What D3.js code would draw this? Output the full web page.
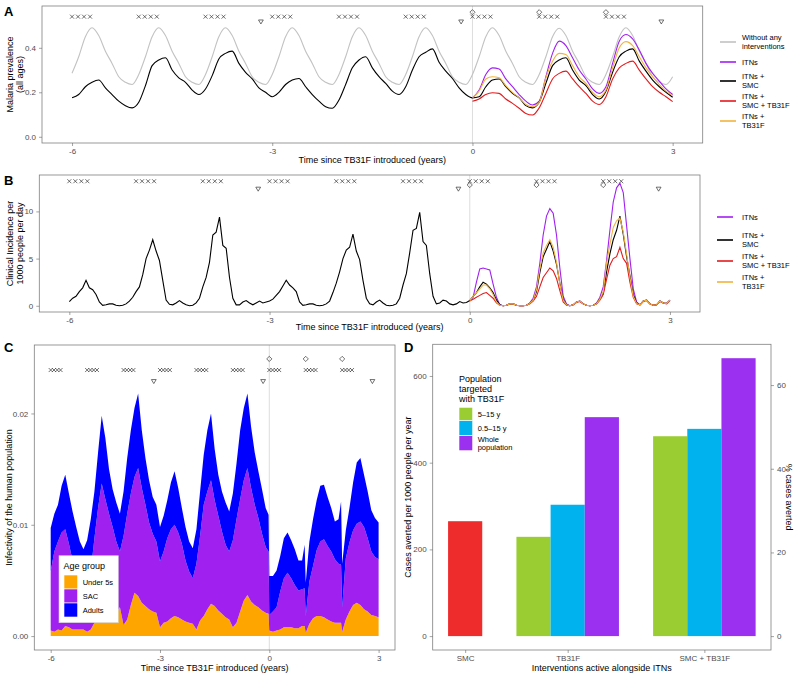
<!DOCTYPE html>
<html><head><meta charset="utf-8">
<script src="https://cdn.jsdelivr.net/npm/d3@7"></script>
<style>body{margin:0;background:#fff} text{font-family:"Liberation Sans",Arial,Helvetica,sans-serif}</style>
</head><body>
<svg id="chart" width="800" height="678"></svg>
<script>
// ---------------- DATA ----------------
const timeTicks = [-6, -3, 0, 3];
// Panel A: malaria prevalence (all ages), sampled every 0.1 y from -6 to 3 (full) / 0 to 3 (after)
const aWithout = [
0.286,0.36,0.45,0.49,0.455,0.385,0.33,0.27,0.245,0.235,
0.28,0.36,0.45,0.49,0.455,0.385,0.33,0.27,0.245,0.235,
0.28,0.36,0.45,0.49,0.455,0.385,0.33,0.27,0.245,0.235,
0.28,0.36,0.45,0.49,0.455,0.385,0.33,0.27,0.245,0.235,
0.28,0.36,0.45,0.49,0.455,0.385,0.33,0.27,0.245,0.235,
0.28,0.36,0.45,0.49,0.455,0.385,0.33,0.27,0.245,0.235,
0.28,0.36,0.45,0.49,0.455,0.385,0.33,0.27,0.245,0.235,
0.28,0.36,0.45,0.488,0.455,0.385,0.33,0.27,0.245,0.235,
0.28,0.36,0.45,0.49,0.455,0.385,0.33,0.27,0.245,0.235,
0.27];
const aItnSmc = [
0.175,0.19,0.225,0.245,0.255,0.22,0.19,0.16,0.14,0.13,
0.155,0.23,0.32,0.345,0.355,0.30,0.265,0.245,0.21,0.19,
0.215,0.275,0.35,0.375,0.385,0.33,0.29,0.26,0.22,0.20,
0.18,0.2,0.235,0.255,0.262,0.225,0.19,0.16,0.135,0.128,
0.165,0.235,0.31,0.345,0.36,0.31,0.27,0.24,0.205,0.19,
0.225,0.30,0.36,0.38,0.395,0.335,0.295,0.262,0.22,0.19,
0.175,0.18,0.225,0.255,0.26,0.225,0.195,0.175,0.14,0.13,
0.155,0.24,0.32,0.345,0.355,0.30,0.255,0.23,0.19,0.17,
0.205,0.29,0.36,0.385,0.395,0.34,0.295,0.255,0.225,0.2,
0.178];
const aItns = [0.175,0.21,0.28,0.31,0.305,0.26,0.225,0.19,0.16,0.143,
0.16,0.27,0.375,0.43,0.41,0.355,0.30,0.26,0.215,0.195,
0.225,0.33,0.43,0.46,0.44,0.39,0.33,0.285,0.25,0.215,0.19];
const aItnSmcTb = [0.16,0.17,0.19,0.198,0.195,0.17,0.15,0.128,0.105,0.098,
0.13,0.195,0.26,0.285,0.295,0.26,0.225,0.195,0.16,0.145,
0.18,0.26,0.31,0.33,0.34,0.30,0.26,0.225,0.20,0.18,0.158];
const aItnTb = [0.175,0.205,0.26,0.27,0.265,0.23,0.20,0.175,0.145,0.135,
0.155,0.265,0.34,0.375,0.37,0.32,0.27,0.24,0.20,0.18,
0.21,0.31,0.40,0.428,0.41,0.36,0.31,0.27,0.235,0.205,0.185];

// Panel B: clinical incidence per 1000 per day, every 0.05 y
const bItnSmc = [
0.45,0.8,1.0,1.5,1.9,2.7,1.9,1.7,1.2,0.4,0.05,0.1,0.2,0.2,0.05,0.0,0.05,0.2,0.5,0.9,
1.5,2.0,3.3,5.0,5.9,7.0,5.8,4.8,2.7,0.6,0.15,0.1,0.3,0.55,0.3,0.1,0.0,0.05,0.3,0.8,
2.0,3.0,4.6,7.5,7.8,9.4,6.4,6.1,3.0,0.8,0.1,0.1,0.4,0.55,0.3,0.1,0.3,0.5,0.3,0.4,
0.5,0.7,1.1,1.5,2.1,2.7,2.2,1.9,1.5,0.4,0.05,0.1,0.2,0.2,0.05,0.0,0.05,0.2,0.5,1.4,
2.4,3.6,5.0,5.9,6.2,7.6,5.8,4.9,2.7,0.8,0.2,0.1,0.4,0.6,0.3,0.05,0.0,0.05,0.2,0.8,
2.2,3.4,5.6,8.0,8.2,9.9,6.8,6.4,3.4,1.0,0.2,0.3,0.6,0.5,0.2,0.1,0.2,0.45,0.3,0.35,
0.55,1.0,1.4,2.0,2.5,2.3,1.9,1.4,0.6,0.1,0.0,0.05,0.2,0.2,0.05,0.0,0.0,0.05,0.25,0.6,
1.5,3.5,5.2,6.0,6.8,5.8,4.4,2.4,0.7,0.1,0.0,0.1,0.4,0.5,0.2,0.05,0.0,0.05,0.2,0.7,
1.3,3.6,5.5,7.0,8.0,9.5,7.6,5.2,3.2,1.2,0.3,0.1,0.5,0.6,0.2,0.05,0.1,0.5,0.3,0.25,
0.6];
const bItns = [
0.55,0.9,2.5,3.9,4.0,3.9,3.8,2.3,0.9,0.1,0.0,0.05,0.2,0.2,0.05,0.0,0.0,0.05,0.3,0.8,
2.0,4.5,7.5,9.5,10.3,9.8,7.5,4.0,1.0,0.2,0.0,0.1,0.4,0.5,0.2,0.05,0.0,0.05,0.3,0.9,
2.0,4.8,8.0,11.0,12.5,13.0,12.0,8.5,5.0,1.8,0.4,0.1,0.5,0.6,0.2,0.05,0.1,0.5,0.3,0.25,
0.6];
const bItnSmcTb = [
0.5,0.7,0.9,1.1,1.3,1.4,1.1,0.8,0.3,0.05,0.0,0.05,0.2,0.2,0.05,0.0,0.0,0.05,0.2,0.5,
1.0,2.0,3.0,3.5,4.0,3.7,2.9,1.6,0.4,0.05,0.0,0.1,0.35,0.45,0.2,0.05,0.0,0.05,0.2,0.6,
1.2,2.8,4.3,5.0,5.2,6.2,5.0,4.5,2.5,0.9,0.2,0.1,0.45,0.55,0.2,0.05,0.1,0.45,0.3,0.2,
0.55];
const bItnTb = [
0.55,1.0,1.4,1.8,2.2,2.2,1.8,1.2,0.4,0.05,0.0,0.05,0.2,0.2,0.05,0.0,0.0,0.05,0.25,0.6,
1.7,3.9,5.6,6.4,7.0,6.2,4.6,2.3,0.6,0.1,0.0,0.1,0.4,0.5,0.2,0.05,0.0,0.05,0.2,0.7,
1.5,4.5,6.5,8.3,9.0,9.3,7.8,5.5,3.0,1.0,0.25,0.1,0.5,0.6,0.2,0.05,0.1,0.5,0.3,0.25,
0.6];

// Panel C: infectivity by age group (units of 0.001), every 0.1 y from -6 to 3
const cUnder5 = [
0.5,0.4,0.6,0.5,0.9,0.8,0.6,0.6,0.6,0.6,
0.4,0.6,1.2,1.5,1.6,1.6,1.7,1.8,2.2,2.6,
1.0,1.5,2.8,3.9,3.6,3.0,2.7,2.4,2.2,2.1,
0.8,1.2,1.3,1.6,1.8,1.7,1.5,1.3,1.2,1.1,
0.6,1.4,1.8,2.4,2.9,2.7,2.3,2.0,1.7,1.5,
0.8,1.2,2.2,3.2,3.7,3.1,2.8,2.6,2.3,2.1,
0.5,0.4,0.5,0.6,0.8,0.8,0.8,0.7,0.7,0.9,
0.3,1.1,1.6,1.8,1.8,1.7,1.5,1.3,1.2,1.2,
0.4,1.5,2.2,2.8,3.0,2.8,2.4,2.2,1.9,1.8,
1.7];
const cSAC = [
5.3,7.2,7.9,8.8,8.7,7.5,6.2,4.6,3.7,3.1,
3.9,5.2,7.6,10.0,12.1,10.7,9.3,8.0,6.3,5.0,
8.0,9.5,10.0,10.4,11.5,10.3,9.1,7.8,7.0,6.4,
5.9,6.4,7.5,8.0,8.2,7.6,6.8,5.5,4.6,4.1,
5.9,7.6,10.0,10.6,11.1,9.5,8.5,7.4,6.5,6.1,
7.8,9.3,10.1,10.8,11.4,10.2,9.0,8.0,6.9,5.9,
1.4,1.8,2.1,3.4,4.4,4.9,4.4,3.9,3.4,3.3,
1.5,3.8,4.7,5.9,6.7,7.0,6.6,6.3,5.7,5.3,
2.2,5.5,6.2,6.7,7.1,7.5,7.4,6.6,5.7,5.3,
5.2];
const cAdults = [
3.9,3.4,3.3,4.2,4.9,4.5,4.4,4.6,4.2,4.1,
4.3,4.7,4.2,5.0,6.1,5.5,4.0,3.4,3.5,3.4,
4.0,5.0,5.7,6.2,6.7,5.2,4.2,3.8,3.3,3.3,
3.1,3.2,3.4,4.2,4.8,4.0,3.2,3.0,2.7,2.7,
3.1,4.0,4.5,5.5,6.0,4.6,3.7,3.6,3.8,3.6,
4.2,5.0,6.2,6.5,6.7,5.5,4.7,4.2,4.0,3.5,
3.5,3.2,3.3,3.2,3.6,3.6,3.4,3.2,2.7,2.6,
3.0,3.6,4.2,4.5,5.0,4.9,4.4,3.9,3.4,4.0,
3.9,2.5,3.1,4.3,5.5,5.7,4.7,4.2,3.7,3.5,
3.3];
// extra samples just before the TB31F rounds (sharp drops)
const cExtraTimes = [-0.02, 0.97, 1.97];
const cExtraUnder5 = [2.0, 0.9, 1.2];
const cExtraSAC = [5.6, 3.4, 5.2];
const cExtraAdults = [3.3, 3.9, 5.7];
const ageGroups = ["Under 5s", "SAC", "Adults"];

// Intervention timing markers (years)
const smcRounds = [-6,-5.91,-5.82,-5.73,-5,-4.91,-4.82,-4.73,-4,-3.91,-3.82,-3.73,
  -3,-2.91,-2.82,-2.73,-2,-1.91,-1.82,-1.73,-1,-0.91,-0.82,-0.73,
  0,0.09,0.18,0.27,1,1.09,1.18,1.27,2,2.09,2.18,2.27];
const itnDistributions = [-3.17, -0.17, 2.83];
const tb31fRounds = [0, 1, 2];

// Panel D
const dCategories = ["SMC", "TB31F", "SMC + TB31F"];
const dTargets = ["5\u201315 y", "0.5\u201315 y", "Whole\npopulation"];
const dSmcAverted = [265];
const dTb31fAverted = [229, 303, 505];
const dSmcTb31fAverted = [461, 478, 641];
const dBaselineCases = 965; // cases per 1000 per year with ITNs only (100%)
const dPctTicks = [0, 20, 40, 60];
const dCaseTicks = [0, 200, 400, 600];

// ---------------- DRAWING ----------------
const svg = d3.select("#chart");
const xDomain = [-6.45, 3.45];
const C = {grey:"#c2c2c2", itn:"#A020F0", smc:"#000000", smctb:"#E41A1C", tb:"#F2B33D",
  u5:"#FFA500", sac:"#A020F0", adult:"#0000FF",
  dGreen:"#9ACD32", dBlue:"#00B2EE", dPurple:"#9B30F0", dRed:"#EE2C2C"};
const tickCol = "#4d4d4d", borderCol = "#7f7f7f";

function styleAxis(sel) {
  sel.select(".domain").remove();
  sel.selectAll(".tick line").attr("stroke", "#666").attr("stroke-width", 0.6);
  sel.selectAll(".tick text").attr("fill", tickCol).attr("font-size", 8)
     .attr("font-family", '"Liberation Sans",Arial,sans-serif');
}
function txt(g, x, y, s, o = {}) {
  const t = g.append("text").attr("x", x).attr("y", y).text(s)
    .attr("font-size", o.size || 9).attr("fill", o.fill || "#000")
    .attr("text-anchor", o.anchor || "start").attr("dominant-baseline", "central");
  if (o.weight) t.attr("font-weight", o.weight);
  if (o.rotate) t.attr("transform", `rotate(${o.rotate},${x},${y})`);
  return t;
}
function markerPath(kind) {
  if (kind === "x") return "M-2,-2L2,2M-2,2L2,-2";
  if (kind === "tri") return "M-2.4,-1.6L2.4,-1.6L0,2.4Z";
  return "M0,-2.6L2.6,0L0,2.6L-2.6,0Z";
}
function drawMarkers(g, x, y, levels) {
  const sets = [[smcRounds, "x", levels.x], [itnDistributions, "tri", levels.tri], [tb31fRounds, "dia", levels.dia]];
  sets.forEach(([times, kind, lev]) => {
    g.selectAll(null).data(times).enter().append("path")
      .attr("d", markerPath(kind))
      .attr("transform", d => `translate(${x(d)},${y(lev)})`)
      .attr("fill", "none").attr("stroke", "#333").attr("stroke-width", 0.7);
  });
}
function timeFrame(o) {
  const g = svg.append("g");
  const x = d3.scaleLinear().domain(xDomain).range([o.left, o.right]);
  const y = d3.scaleLinear().domain(o.yDomain).range([o.bottom, o.top]);
  g.append("line").attr("x1", x(0)).attr("x2", x(0)).attr("y1", o.top).attr("y2", o.bottom)
    .attr("stroke", "#d9d9d9").attr("stroke-width", 0.9);
  return {g, x, y};
}
function timeAxes(f, o) {
  const {g, x, y} = f;
  g.append("rect").attr("x", o.left).attr("y", o.top).attr("width", o.right - o.left)
    .attr("height", o.bottom - o.top).attr("fill", "none").attr("stroke", borderCol).attr("stroke-width", 0.8);
  const ax = g.append("g").attr("transform", `translate(0,${o.bottom})`)
    .call(d3.axisBottom(x).tickValues(timeTicks).tickSize(3).tickPadding(2).tickFormat(d => String(d)));
  styleAxis(ax);
  const ay = g.append("g").attr("transform", `translate(${o.left},0)`)
    .call(d3.axisLeft(y).tickValues(o.yTicks).tickSize(3).tickPadding(3).tickFormat(o.yFmt));
  styleAxis(ay);
  txt(g, (o.left + o.right) / 2, o.xTitleY, "Time since TB31F introduced (years)", {anchor: "middle", size: 9});
  const cy = (o.top + o.bottom) / 2;
  o.yTitle.forEach((s, i) => txt(g, o.yTitleX[i], cy, s, {anchor: "middle", size: 9, rotate: -90}));
}
function lineLegend(g, items, o) {
  items.forEach((it, i) => {
    g.append("line").attr("x1", o.x0).attr("x2", o.x1).attr("y1", o.keyY[i]).attr("y2", o.keyY[i])
      .attr("stroke", it.color).attr("stroke-width", 1.6);
    it.label.forEach((s, j) => txt(g, o.tx, o.keyY[i] + (j - (it.label.length - 1) / 2) * 8.5, s, {size: 7.5}));
  });
}

// ---- Panel A ----
(function () {
  const o = {left: 42, right: 702.7, top: 6, bottom: 143, yDomain: [-0.028, 0.588], yTicks: [0, 0.2, 0.4],
    yFmt: d3.format(".1f"), xTitleY: 160, yTitle: ["Malaria prevalence", "(all ages)"], yTitleX: [9.5, 20]};
  const f = timeFrame(o);
  const tFull = d3.range(aWithout.length).map(i => -6 + i / 10);
  const tAfter = d3.range(aItns.length).map(i => i / 10);
  const series = [
    {v: aWithout, t: tFull, color: C.grey},
    {v: aItns, t: tAfter, color: C.itn},
    {v: aItnSmc, t: tFull, color: C.smc},
    {v: aItnSmcTb, t: tAfter, color: C.smctb},
    {v: aItnTb, t: tAfter, color: C.tb}];
  series.forEach(s => {
    const line = d3.line().x((d, i) => f.x(s.t[i])).y(d => f.y(d)).curve(d3.curveMonotoneX);
    f.g.append("path").attr("d", line(s.v)).attr("fill", "none").attr("stroke", s.color).attr("stroke-width", 1.1);
  });
  drawMarkers(f.g, f.x, f.y, {x: 0.54, tri: 0.518, dia: 0.56});
  timeAxes(f, o);
  lineLegend(f.g, [
    {color: C.grey, label: ["Without any", "interventions"]},
    {color: C.itn, label: ["ITNs"]},
    {color: C.smc, label: ["ITNs +", "SMC"]},
    {color: C.smctb, label: ["ITNs +", "SMC + TB31F"]},
    {color: C.tb, label: ["ITNs +", "TB31F"]}], {x0: 720, x1: 736, tx: 742, keyY: [42, 62, 81, 101, 121]});
  txt(svg, 4, 11, "A", {size: 13, weight: "bold"});
})();

// ---- Panel B ----
(function () {
  const o = {left: 39.3, right: 700, top: 175, bottom: 312, yDomain: [-0.66, 13.86], yTicks: [0, 5, 10],
    yFmt: d => String(d), xTitleY: 327, yTitle: ["Clinical Incidence per", "1000 people per day"], yTitleX: [9.5, 20]};
  const f = timeFrame(o);
  const tFull = d3.range(bItnSmc.length).map(i => -6 + i / 20);
  const tAfter = d3.range(bItns.length).map(i => i / 20);
  const series = [
    {v: bItns, t: tAfter, color: C.itn},
    {v: bItnSmc, t: tFull, color: C.smc},
    {v: bItnSmcTb, t: tAfter, color: C.smctb},
    {v: bItnTb, t: tAfter, color: C.tb}];
  series.forEach(s => {
    const line = d3.line().x((d, i) => f.x(s.t[i])).y(d => f.y(d));
    f.g.append("path").attr("d", line(s.v)).attr("fill", "none").attr("stroke", s.color).attr("stroke-width", 1.1);
  });
  drawMarkers(f.g, f.x, f.y, {x: 13.2, tri: 12.4, dia: 12.8});
  timeAxes(f, o);
  lineLegend(f.g, [
    {color: C.itn, label: ["ITNs"]},
    {color: C.smc, label: ["ITNs +", "SMC"]},
    {color: C.smctb, label: ["ITNs +", "SMC + TB31F"]},
    {color: C.tb, label: ["ITNs +", "TB31F"]}], {x0: 717, x1: 733, tx: 742, keyY: [217, 240, 261, 282]});
  txt(svg, 4, 180, "B", {size: 13, weight: "bold"});
})();

// ---- Panel C ----
(function () {
  const o = {left: 34.3, right: 395, top: 345, bottom: 650, yDomain: [-1.25, 26.15], yTicks: [0, 10, 20],
    yFmt: d => (d / 1000).toFixed(2), xTitleY: 668, yTitle: ["Infectivity of the human population"], yTitleX: [9]};
  const f = timeFrame(o);
  const t = d3.range(cUnder5.length).map(i => -6 + i / 10);
  const rows = t.map((tt, i) => ({t: tt, "Under 5s": cUnder5[i], "SAC": cSAC[i], "Adults": cAdults[i]}));
  cExtraTimes.forEach((tt, i) => rows.push({t: tt, "Under 5s": cExtraUnder5[i], "SAC": cExtraSAC[i], "Adults": cExtraAdults[i]}));
  rows.sort((a, b) => a.t - b.t);
  const stack = d3.stack().keys(ageGroups)(rows);
  const cols = [C.u5, C.sac, C.adult];
  const area = d3.area().x(d => f.x(d.data.t)).y0(d => f.y(d[0])).y1(d => f.y(d[1]));
  stack.forEach((s, i) => f.g.append("path").attr("d", area(s)).attr("fill", cols[i]));
  drawMarkers(f.g, f.x, f.y, {x: 23.9, tri: 22.9, dia: 24.9});
  timeAxes(f, o);
  // legend
  const lg = f.g.append("g");
  lg.append("rect").attr("x", 59).attr("y", 555.7).attr("width", 59.3).attr("height", 67)
    .attr("fill", "#fff").attr("stroke", "#d0d0d0").attr("stroke-width", 0.6);
  txt(lg, 63.5, 566, "Age group", {size: 9});
  ageGroups.forEach((k, i) => {
    lg.append("rect").attr("x", 64).attr("y", 575 + i * 14).attr("width", 13.7).attr("height", 14)
      .attr("fill", cols[i]).attr("stroke", "#fff").attr("stroke-width", 0.6);
    txt(lg, 82.7, 582 + i * 14, k, {size: 7.5});
  });
  txt(svg, 4, 347, "C", {size: 13, weight: "bold"});
})();

// ---- Panel D ----
(function () {
  const left = 432.7, right = 771, top = 344.3, bottom = 650;
  const g = svg.append("g");
  const groups = [dSmcAverted, dTb31fAverted, dSmcTb31fAverted];
  const bars = [], labelSlots = [];
  let slot = 0;
  groups.forEach((vals, gi) => {
    vals.forEach((v, j) => bars.push({slot: slot + j, value: v,
      color: gi === 0 ? C.dRed : [C.dGreen, C.dBlue, C.dPurple][j]}));
    labelSlots.push({cat: dCategories[gi], slot: slot + (vals.length - 1) / 2});
    slot += vals.length + 1;
  });
  const nSlots = slot - 1;
  const x = d3.scaleLinear().domain([-0.95, nSlots - 1 + 0.95]).range([left, right]);
  const maxV = d3.max(bars, b => b.value);
  const y = d3.scaleLinear().domain([-0.05 * maxV, 1.05 * maxV]).range([bottom, top]);
  const yPct = d3.scaleLinear().domain(y.domain().map(v => v / dBaselineCases * 100)).range([bottom, top]);
  g.selectAll(null).data(bars).enter().append("rect")
    .attr("x", d => x(d.slot - 0.5)).attr("width", d => x(d.slot + 0.5) - x(d.slot - 0.5))
    .attr("y", d => y(d.value)).attr("height", d => y(0) - y(d.value)).attr("fill", d => d.color);
  g.append("rect").attr("x", left).attr("y", top).attr("width", right - left).attr("height", bottom - top)
    .attr("fill", "none").attr("stroke", borderCol).attr("stroke-width", 0.8);
  const ax = g.append("g").attr("transform", `translate(0,${bottom})`)
    .call(d3.axisBottom(x).tickValues(labelSlots.map(d => d.slot)).tickSize(3).tickPadding(2)
      .tickFormat(d => labelSlots.find(l => l.slot === d).cat));
  styleAxis(ax);
  const ay = g.append("g").attr("transform", `translate(${left},0)`)
    .call(d3.axisLeft(y).tickValues(dCaseTicks).tickSize(3).tickPadding(3));
  styleAxis(ay);
  const ar = g.append("g").attr("transform", `translate(${right},0)`)
    .call(d3.axisRight(yPct).tickValues(dPctTicks).tickSize(3).tickPadding(3));
  styleAxis(ar);
  txt(g, (left + right) / 2, 668, "Interventions active alongside ITNs", {anchor: "middle", size: 9});
  txt(g, 408, (top + bottom) / 2, "Cases averted per 1000 people per year", {anchor: "middle", size: 9, rotate: -90});
  txt(g, 789, (top + bottom) / 2, "% cases averted", {anchor: "middle", size: 9, rotate: 90});
  // legend
  ["Population", "targeted", "with TB31F"].forEach((s, i) => txt(g, 459, 378.5 + i * 10, s, {size: 9}));
  const keyCols = [C.dGreen, C.dBlue, C.dPurple];
  const keyTops = [407.3, 420.7, 435.7], keyH = [13.4, 15, 15];
  dTargets.forEach((lab, i) => {
    g.append("rect").attr("x", 459).attr("y", keyTops[i]).attr("width", 13.7).attr("height", keyH[i])
      .attr("fill", keyCols[i]).attr("stroke", "#fff").attr("stroke-width", 0.6);
    const lines = lab.split("\n");
    const cy = keyTops[i] + keyH[i] / 2;
    lines.forEach((s, j) => txt(g, 477.7, cy + (j - (lines.length - 1) / 2) * 8.3, s, {size: 7.5}));
  });
  txt(svg, 404, 347, "D", {size: 13, weight: "bold"});
})();
</script>
</body></html>
